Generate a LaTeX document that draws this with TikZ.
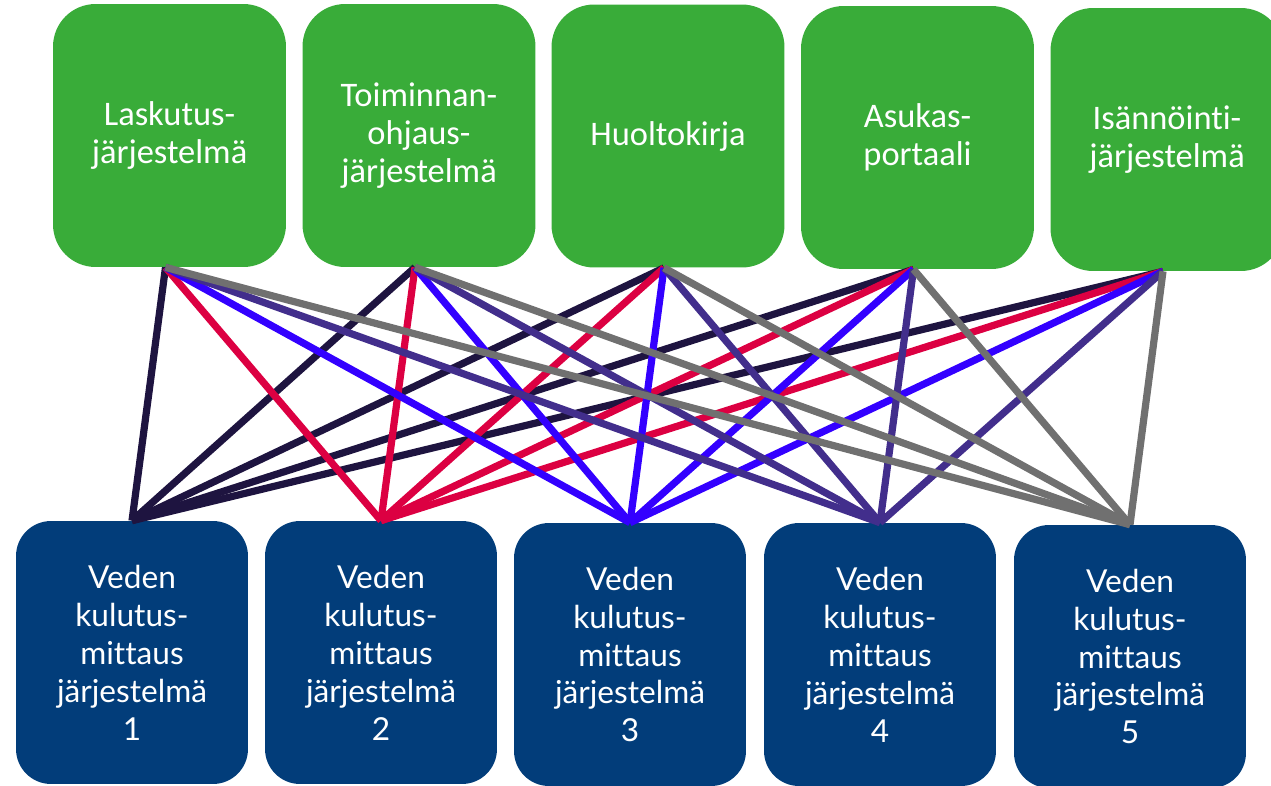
\documentclass[tikz,border=0pt]{standalone}
\usepackage{fontspec}
\newfontfamily\topfont[Ligatures=NoCommon]{Carlito}
\newfontfamily\botfont[Ligatures=NoCommon]{Lato}
\definecolor{boxgreen}{RGB}{57,172,57}
\definecolor{boxblue}{RGB}{2,61,122}
\definecolor{lnavy}{RGB}{30,20,64}
\definecolor{lred}{RGB}{220,0,66}
\definecolor{lblue}{RGB}{51,0,255}
\definecolor{lpurple}{RGB}{66,46,140}
\definecolor{lgray}{RGB}{112,112,112}
\begin{document}
\begin{tikzpicture}[x=0.02cm,y=-0.02cm,
  topbox/.style={fill=boxgreen,draw=none,rounded corners=0.85cm,minimum width=4.66cm,minimum height=5.26cm,inner sep=0pt,text=white,align=center,font=\topfont\fontsize{19.6}{21.5}\selectfont},
  botbox/.style={fill=boxblue,draw=none,rounded corners=0.7cm,minimum width=4.64cm,minimum height=5.26cm,inner sep=0pt,text=white,align=center,font=\botfont\fontsize{18}{21.6}\selectfont},
  conn/.style={line width=4.1pt}]
\useasboundingbox (0,0) rectangle (1271,785);
\clip (0,0) rectangle (1271,785);
\node[topbox] (T1) at (169.5,135.5) {Laskutus-\\järjestelmä};
\node[topbox] (T2) at (419,135.5) {Toiminnan-\\ohjaus-\\järjestelmä};
\node[topbox] (T3) at (668,136) {Huoltokirja};
\node[topbox] (T4) at (917.5,137.5) {Asukas-\\portaali};
\node[topbox] (T5) at (1167,139.5) {Isännöinti-\\järjestelmä};
\node[botbox] (B1) at (132,652.5) {Veden\\kulutus-\\mittaus\\järjestelmä\\1};
\node[botbox] (B2) at (381,652.5) {Veden\\kulutus-\\mittaus\\järjestelmä\\2};
\node[botbox] (B3) at (630,654.5) {Veden\\kulutus-\\mittaus\\järjestelmä\\3};
\node[botbox] (B4) at (880,654.5) {Veden\\kulutus-\\mittaus\\järjestelmä\\4};
\node[botbox] (B5) at (1130,656.5) {Veden\\kulutus-\\mittaus\\järjestelmä\\5};
\foreach \t in {1,...,5}{\draw[conn,lnavy] ([xshift=-0.08cm]T\t.south) -- (B1.north);}
\foreach \t in {1,...,5}{\draw[conn,lred] ([xshift=-0.08cm]T\t.south) -- (B2.north);}
\foreach \t in {1,...,5}{\draw[conn,lblue] ([xshift=-0.08cm]T\t.south) -- (B3.north);}
\foreach \t in {1,...,5}{\draw[conn,lpurple] ([xshift=-0.08cm]T\t.south) -- (B4.north);}
\foreach \t in {1,...,5}{\draw[conn,lgray] ([xshift=-0.08cm]T\t.south) -- (B5.north);}
\end{tikzpicture}
\end{document}
